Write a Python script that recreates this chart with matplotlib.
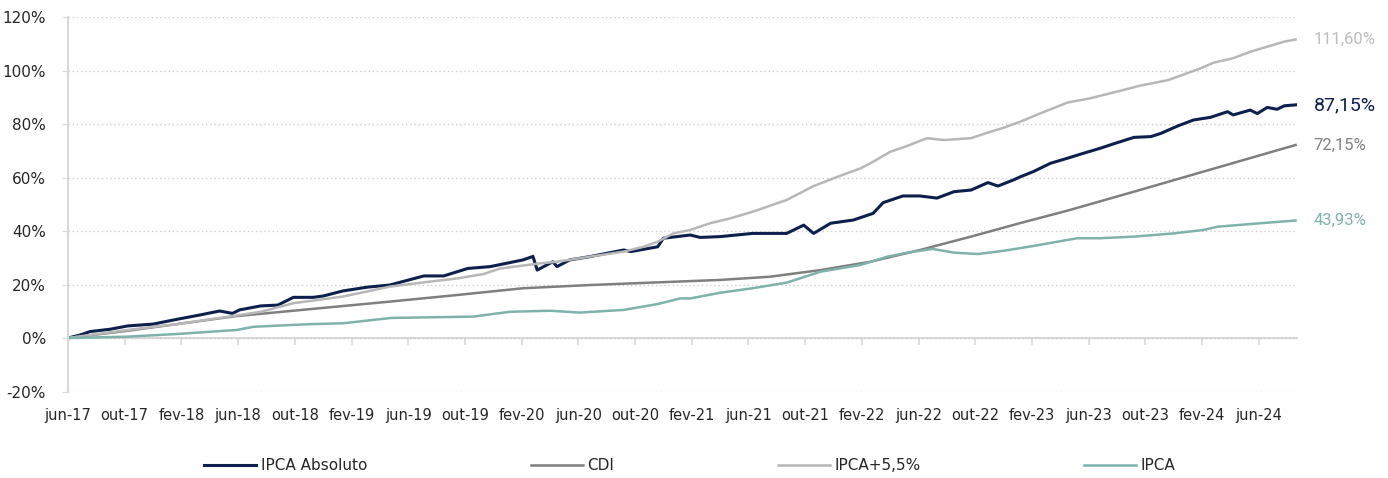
import matplotlib
matplotlib.use("Agg")
import matplotlib.pyplot as plt
from matplotlib.ticker import FuncFormatter

plt.rcParams['font.family'] = ['DejaVu Sans']

# months elapsed since jun-17, values in %
abs_m = [0, 0.85, 1.55, 3.0, 4.2, 6.0, 7.7, 9.3, 10.7, 11.6, 12.1, 13.6, 14.8, 15.9,
         17.3, 18.0, 19.4, 21.1, 22.7, 25.1, 26.5, 28.2, 29.8, 32.1, 32.8, 33.1, 34.2,
         34.5, 35.4, 36.8, 39.2, 39.7, 41.6, 42.0, 43.9, 44.6, 46.0, 48.3, 50.7, 51.9,
         52.6, 53.8, 55.4, 56.8, 57.5, 58.9, 60.1, 61.3, 62.5, 63.7, 64.9, 65.6, 66.7,
         67.2, 68.1, 69.3, 70.5, 71.6, 72.8, 74.0, 75.2, 76.4, 77.1, 78.3, 79.4, 80.6,
         81.8, 82.2, 83.4, 83.9, 84.6, 85.3, 85.8, 86.6]
abs_v = [0, 1.1, 2.4, 3.3, 4.5, 5.2, 7.0, 8.6, 10.1, 9.2, 10.5, 12.0, 12.3, 15.2,
         15.2, 15.7, 17.6, 19.0, 19.8, 23.2, 23.2, 26.0, 26.7, 29.2, 30.5, 25.4, 28.5,
         26.7, 29.2, 30.4, 32.9, 32.3, 34.1, 37.3, 38.5, 37.6, 37.9, 39.1, 39.1, 42.2,
         39.1, 42.9, 44.1, 46.6, 50.6, 53.1, 53.1, 52.3, 54.7, 55.3, 58.1, 56.8, 59.1,
         60.3, 62.2, 65.3, 67.2, 69.0, 70.9, 73.0, 75.0, 75.3, 76.5, 79.3, 81.5, 82.5,
         84.6, 83.4, 85.2, 83.9, 86.2, 85.5, 86.8, 87.15]

cdi_m = [0, 4.2, 11.9, 15.9, 22.7, 27.5, 32.1, 36.8, 41.6, 46.0, 49.5, 53.1, 56.6,
         60.1, 63.7, 67.2, 70.5, 75.2, 79.9, 86.6]
cdi_v = [0, 2.7, 8.2, 10.2, 13.6, 16.1, 18.6, 19.8, 20.8, 21.7, 22.9, 25.4, 28.5,
         32.9, 37.9, 43.0, 47.6, 54.7, 61.9, 72.15]

meta_m = [0, 4.2, 7.7, 11.6, 13.6, 15.9, 19.4, 22.7, 25.1, 27.5, 29.3, 30.5, 33.3,
          34.5, 36.8, 39.2, 40.6, 41.6, 42.7, 43.9, 45.3, 46.7, 48.3, 50.7, 52.6,
          54.3, 55.9, 56.8, 58.0, 59.2, 60.6, 61.8, 63.7, 64.9, 66.0, 67.2, 68.6,
          70.5, 72.1, 74.0, 75.6, 77.6, 79.9, 80.8, 82.2, 83.4, 84.6, 85.8, 86.6]
meta_v = [0, 3.0, 5.2, 8.2, 9.8, 13.0, 15.5, 19.2, 20.8, 22.3, 23.9, 26.0, 27.9,
          28.5, 30.4, 32.3, 34.1, 36.0, 39.1, 40.4, 42.9, 44.7, 47.2, 51.6, 56.8,
          60.3, 63.4, 65.9, 69.6, 71.8, 74.7, 74.0, 74.7, 76.8, 78.6, 80.9, 84.0,
          88.0, 89.6, 92.1, 94.3, 96.4, 100.8, 102.9, 104.6, 107.0, 108.9, 110.8, 111.6]

ipca_m = [0, 4.2, 7.7, 11.9, 13.1, 15.9, 17.3, 19.4, 21.1, 22.8, 28.6, 30.3, 31.2,
          34.0, 36.1, 39.2, 41.6, 43.2, 43.9, 46.0, 48.3, 50.7, 53.1, 55.9, 57.8,
          59.2, 61.0, 62.5, 64.2, 66.0, 68.1, 71.2, 72.8, 75.2, 78.0, 80.1, 81.1,
          83.4, 86.6]
ipca_v = [0, 0.5, 1.5, 3.0, 4.2, 4.9, 5.2, 5.5, 6.5, 7.5, 8.0, 9.2, 9.8,
          10.2, 9.5, 10.5, 12.7, 14.8, 14.8, 16.9, 18.6, 20.7, 24.8, 27.3, 30.4,
          31.9, 33.3, 31.9, 31.4, 32.6, 34.4, 37.3, 37.3, 37.9, 39.1, 40.4, 41.6,
          42.6, 43.93]

tick_months = list(range(0, 85, 4))
tick_labels = ['jun-17', 'out-17', 'fev-18', 'jun-18', 'out-18', 'fev-19', 'jun-19',
               'out-19', 'fev-20', 'jun-20', 'out-20', 'fev-21', 'jun-21', 'out-21',
               'fev-22', 'jun-22', 'out-22', 'fev-23', 'jun-23', 'out-23', 'fev-24',
               'jun-24']

navy = '#0c1f4d'
cdi_c = '#7f7f7f'
meta_c = '#b7b7b7'
ipca_c = '#7fb2aa'
axis_c = '#d9d9d9'

fig = plt.figure(figsize=(13.88, 4.78), dpi=100)
ax = fig.add_axes([68 / 1388, 1 - 391.5 / 478, (1297 - 68) / 1388, (391.5 - 17) / 478])

ax.plot(abs_m, abs_v, color=navy, lw=2.2, label='IPCA Absoluto')
ax.plot(cdi_m, cdi_v, color=cdi_c, lw=1.8, label='CDI')
ax.plot(meta_m, meta_v, color=meta_c, lw=1.8, label='IPCA+5,5%')
ax.plot(ipca_m, ipca_v, color=ipca_c, lw=1.8, label='IPCA')

ax.set_xlim(0, 86.7)
ax.set_ylim(-20, 120)
ax.set_yticks(range(-20, 121, 20))
ax.yaxis.set_major_formatter(FuncFormatter(lambda v, p: f'{v:.0f}%'))
ax.yaxis.grid(True, linestyle=(0, (1, 2)), color='#cccccc', lw=1)
ax.set_axisbelow(True)
ax.tick_params(axis='y', length=4, color=axis_c, labelsize=11, pad=12, labelcolor='#262626')

ax.set_xticks(tick_months)
ax.set_xticklabels(tick_labels)
ax.tick_params(axis='x', length=0, pad=12, labelsize=10.5, labelcolor='#262626')

for s in ['top', 'right', 'bottom']:
    ax.spines[s].set_visible(False)
ax.spines['left'].set_color(axis_c)
ax.spines['left'].set_linewidth(1.5)

# zero line carrying the small month ticks
zero = ax.secondary_xaxis(20 / 140)
zero.set_xticks(tick_months)
zero.tick_params(length=5, color=axis_c, width=1.2, labelbottom=False)
zero.spines['bottom'].set_color(axis_c)
zero.spines['bottom'].set_linewidth(1.5)

# end-of-line labels
ends = [(meta_m, meta_v, '#bdbdbd', 12),
        (abs_m, abs_v, navy, 14),
        (cdi_m, cdi_v, '#808080', 12),
        (ipca_m, ipca_v, ipca_c, 12)]
for m, v, c, fs in ends:
    ax.annotate(f'{v[-1]:.2f}%'.replace('.', ','), xy=(m[-1], v[-1]), xytext=(13, 0),
                textcoords='offset points', va='center', ha='left', color=c,
                fontsize=fs, family='Roboto', annotation_clip=False)

fig.legend(loc='center', bbox_to_anchor=(0.497, 1 - 466 / 478), ncol=4, frameon=False,
           fontsize=11, handlelength=3.4, handletextpad=0.3, columnspacing=10.7,
           labelcolor='#262626')

plt.savefig('out.png', dpi=100)
